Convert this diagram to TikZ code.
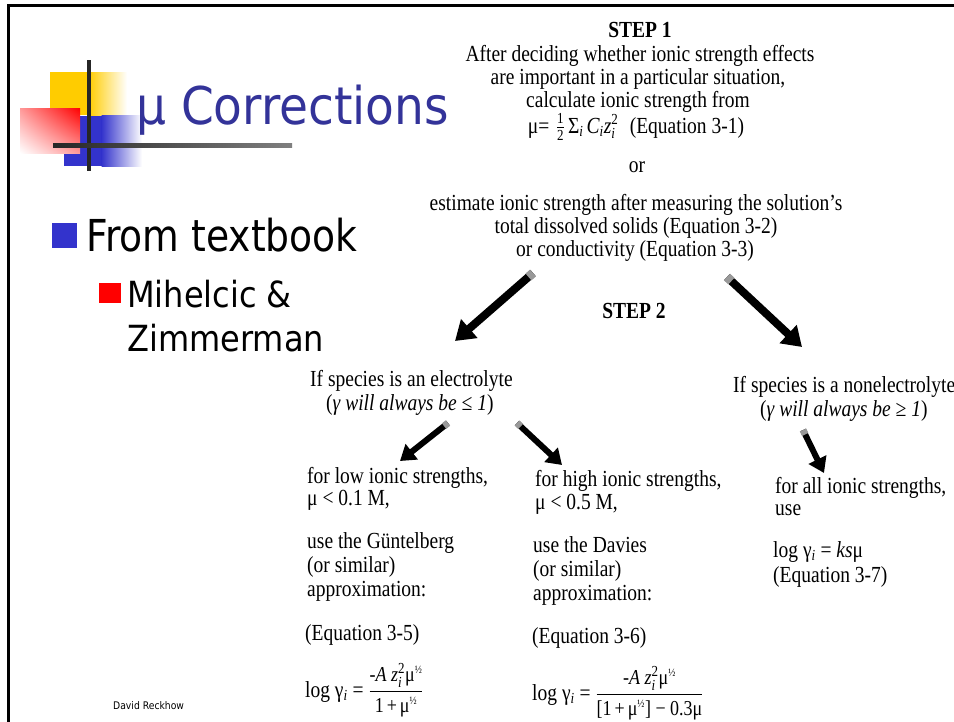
\RequirePackage{fix-cm}
\documentclass[tikz,border=0pt]{standalone}
\usepackage{fontspec}
\setmainfont{Liberation Serif}
\newfontfamily\tahoma{DejaVu Sans}
\usetikzlibrary{arrows.meta,calc,shadings}
\definecolor{titleblue}{HTML}{333399}
\definecolor{bblue}{HTML}{3333CC}
\definecolor{lyellow}{HTML}{FFCC00}
\newcommand\scantext{\fontsize{19.5}{23}\selectfont}
\newcommand\sy[1]{\scalebox{1}[1.18]{#1}}
\newcommand\qi[1]{\mbox{\itshape #1}}
\newcommand\qs[1]{\mbox{\fontsize{13}{13}\selectfont\itshape #1}}
\newcommand\qn[1]{\mbox{\fontsize{13}{13}\selectfont #1}}
\newcommand\qh{\mbox{\fontsize{9.5}{9.5}\selectfont ½}}
\newcommand\qf[1]{\mbox{\fontsize{18}{18}\selectfont #1}}
\tikzset{
  ln/.style={anchor=base, inner sep=0pt, font=\scantext},
  lw/.style={anchor=base west, inner sep=0pt, font=\scantext},
  bigarrow/.style={line width=8pt, -{Triangle[width=24pt,length=19pt]}},
  smallarrow/.style={line width=6pt, -{Triangle[width=19pt,length=15pt]}},
  fadetail/.style={line width=9pt, black!40},
  sans/.style={anchor=base west, inner sep=0pt}
}
\begin{document}
\begin{tikzpicture}[x=1pt,y=-1pt]
\useasboundingbox (0,0) rectangle (954,721);
\fill[white] (0,0) rectangle (954,721);
% slide frame
\draw[line width=3pt] (8,730) -- (8,5) -- (965,5);
% logo
\fill[lyellow] (50,72) rectangle (89,115);
\shade[left color=lyellow, right color=white] (88.5,72) rectangle (127,115);
\fill[bblue] (64,116) rectangle (102,166);
\shade[left color=bblue, right color=white] (101.5,115) rectangle (142,166);
\shade[upper right=red, lower left=white, upper left=red!40, lower right=red!40] (20,108) rectangle (80,153);
\fill[black!85] (87,60) rectangle (91,171);
\shade[left color=black!85, right color=black!50] (53,143) rectangle (292,147);
% title and bullets
\node[sans, text=titleblue] (title) at (136,124) {\tahoma\fontsize{52}{52}\selectfont\scalebox{0.905}[1]{μ Corrections}};
\fill[bblue] (52,223) rectangle (77,248);
\node[sans] (b1) at (86,251) {\tahoma\fontsize{44}{44}\selectfont\scalebox{0.856}[1]{From textbook}};
\fill[red] (99,283) rectangle (121,303);
\node[sans] (b2) at (127,307) {\tahoma\fontsize{36}{36}\selectfont\scalebox{0.89}[1]{Mihelcic \&}};
\node[sans] (b3) at (127,351) {\tahoma\fontsize{36}{36}\selectfont\scalebox{0.89}[1]{Zimmerman}};
\node[sans] (author) at (113,709) {\tahoma\fontsize{10.5}{10.5}\selectfont\scalebox{0.88}[1]{David Reckhow}};
% step 1
\node[ln] (s1) at (640,37) {\sy{\bfseries STEP 1}};
\node[ln] (s1a) at (640,61) {\sy{After deciding whether ionic strength effects}};
\node[ln] (s1b) at (638,84) {\sy{are important in a particular situation,}};
\node[ln] (s1c) at (638,107) {\sy{calculate ionic strength from}};
\node[ln] (s1d) at (636,133) {\sy{μ=\,\,$\frac{\qn{1}}{\qn{2}}$\,Σ$_{\qs{i}}$\,\qi{C}$_{\qs{i}}$\qi{z}$_{\qs{i}}^{\qn{2}}$\,\, (Equation 3-1)}};
\node[ln] (or) at (637,172) {\sy{or}};
\node[ln] (s1e) at (636,210) {\sy{estimate ionic strength after measuring the solution's}};
\node[ln] (s1f) at (636,233) {\sy{total dissolved solids (Equation 3-2)}};
\node[ln] (s1g) at (635,256) {\sy{or conductivity (Equation 3-3)}};
\node[ln] (s2) at (634,318) {\sy{\bfseries STEP 2}};
% step 2 branches
\node[lw] (el1) at (310,386) {\sy{If species is an electrolyte}};
\node[lw] (el2) at (326,410) {\sy{(\textit{γ will always be ≤ 1})}};
\node[lw] (ne1) at (733,392) {\sy{If species is a nonelectrolyte}};
\node[lw] (ne2) at (760,416) {\sy{(\textit{γ will always be ≥ 1})}};
% left column
\node[lw] (l1) at (307,483) {\sy{for low ionic strengths,}};
\node[lw] (l2) at (307,505) {\sy{μ < 0.1 M,}};
\node[lw] (l3) at (307,548) {\sy{use the Güntelberg}};
\node[lw] (l4) at (307,572) {\sy{(or similar)}};
\node[lw] (l5) at (307,596) {\sy{approximation:}};
\node[lw] (l6) at (305,640) {\sy{(Equation 3-5)}};
\node[lw] (l7) at (305,697) {\sy{log γ$_{\qs{i}}$ = $\displaystyle\frac{\qf{-\itshape A z}_{\qs{i}}^{\qn{2}}\qf{μ}^{\qh}}{\qf{1\,+\,μ}^{\qh}}$}};
% middle column
\node[lw] (m1) at (535,486) {\sy{for high ionic strengths,}};
\node[lw] (m2) at (535,509) {\sy{μ < 0.5 M,}};
\node[lw] (m3) at (533,552) {\sy{use the Davies}};
\node[lw] (m4) at (533,576) {\sy{(or similar)}};
\node[lw] (m5) at (533,600) {\sy{approximation:}};
\node[lw] (m6) at (532,643) {\sy{(Equation 3-6)}};
\node[lw] (m7) at (532,700) {\sy{log γ$_{\qs{i}}$ = $\displaystyle\frac{\qf{-\itshape A z}_{\qs{i}}^{\qn{2}}\qf{μ}^{\qh}}{\qf{[1\,+\,μ}^{\qh}\qf{] − 0.3μ}}$}};
% right column
\node[lw] (r1) at (775,493) {\sy{for all ionic strengths,}};
\node[lw] (r2) at (775,515) {\sy{use}};
\node[lw] (r3) at (773,557) {\sy{log γ$_{\qs{i}}$ = \textit{ks}μ}};
\node[lw] (r4) at (773,582) {\sy{(Equation 3-7)}};
% arrows
\coordinate (a1t) at (533,273); \coordinate (a1h) at (455,341);
\coordinate (a2t) at (727,277); \coordinate (a2h) at (802,347);
\coordinate (a3t) at (448,423); \coordinate (a3h) at (400,461);
\coordinate (a4t) at (517,423); \coordinate (a4h) at (562,465);
\coordinate (a5t) at (803,430); \coordinate (a5h) at (824,473);
\draw[bigarrow] (a1t) -- (a1h);
\draw[bigarrow] (a2t) -- (a2h);
\draw[smallarrow] (a3t) -- (a3h);
\draw[smallarrow] (a4t) -- (a4h);
\draw[smallarrow] (a5t) -- (a5h);
\draw[fadetail] (a1t) -- ($(a1t)!6pt!(a1h)$);
\draw[fadetail] (a2t) -- ($(a2t)!6pt!(a2h)$);
\draw[fadetail, line width=7pt] (a3t) -- ($(a3t)!5pt!(a3h)$);
\draw[fadetail, line width=7pt] (a4t) -- ($(a4t)!5pt!(a4h)$);
\draw[fadetail, line width=7pt] (a5t) -- ($(a5t)!5pt!(a5h)$);
\end{tikzpicture}
\end{document}
